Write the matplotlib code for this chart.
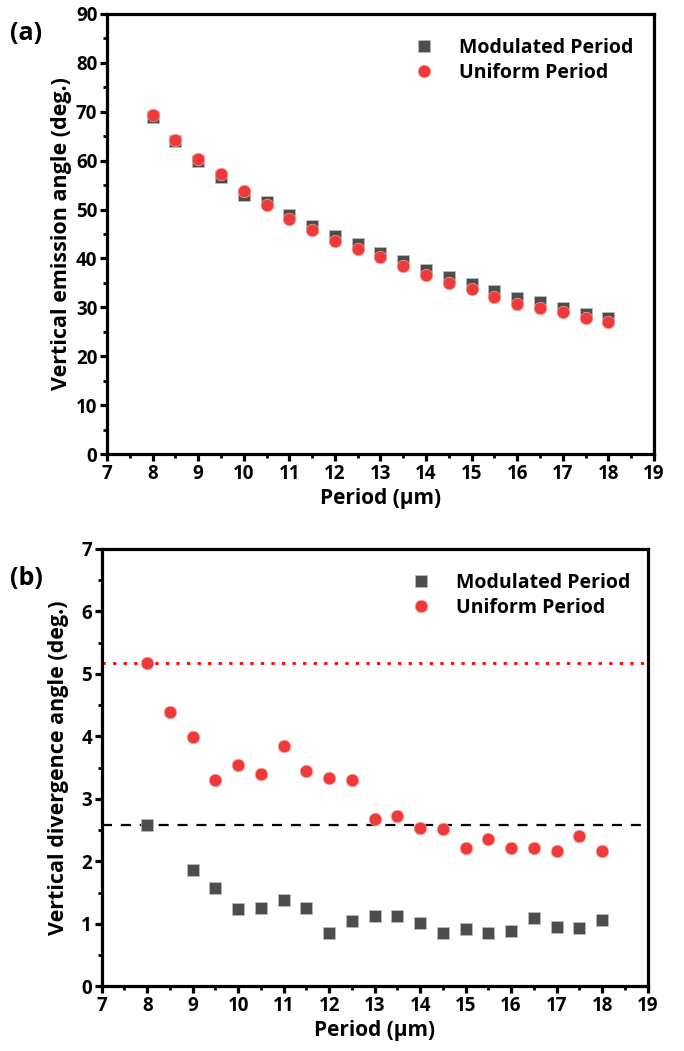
import matplotlib.pyplot as plt
from matplotlib.ticker import MultipleLocator

plt.rcParams['font.family'] = ['Open Sans', 'DejaVu Sans']
plt.rcParams['font.weight'] = 'bold'

# data
period = [8, 8.5, 9, 9.5, 10, 10.5, 11, 11.5, 12, 12.5, 13, 13.5,
          14, 14.5, 15, 15.5, 16, 16.5, 17, 17.5, 18]

emis_mod = [69.0, 64.0, 59.9, 56.6, 53.0, 51.6, 48.8, 46.6, 44.6, 42.9, 41.1, 39.5,
            37.6, 36.3, 34.8, 33.4, 32.0, 31.1, 29.8, 28.6, 27.8]
emis_uni = [69.3, 64.2, 60.3, 57.2, 53.8, 50.9, 48.1, 45.8, 43.6, 41.9, 40.2, 38.4,
            36.6, 35.0, 33.7, 32.2, 30.7, 29.8, 29.1, 27.8, 27.0]

div_mod = [2.58, None, 1.87, 1.58, 1.24, 1.25, 1.39, 1.26, 0.85, 1.05, 1.12, 1.12,
           1.01, 0.86, 0.92, 0.86, 0.89, 1.10, 0.95, 0.94, 1.06]
div_uni = [5.18, 4.39, 3.99, 3.31, 3.55, 3.40, 3.84, 3.45, 3.34, 3.31, 2.68, 2.72,
           2.53, 2.52, 2.22, 2.36, 2.22, 2.21, 2.16, 2.40, 2.17]

uni_ref = 5.18   # dotted red reference line
mod_ref = 2.59   # dashed black reference line

grey = '#4d4d4d'
red = '#f03a3a'

fig = plt.figure(figsize=(6.84, 10.51), dpi=100)
ax1 = fig.add_axes([0.1564, 0.568, 0.7997, 0.4187])
ax2 = fig.add_axes([0.1487, 0.0614, 0.798, 0.4163])


def style_axis(ax, ymax, ymaj, ymin):
    ax.set_xlim(7, 19)
    ax.set_ylim(0, ymax)
    ax.xaxis.set_major_locator(MultipleLocator(1))
    ax.xaxis.set_minor_locator(MultipleLocator(0.5))
    ax.yaxis.set_major_locator(MultipleLocator(ymaj))
    ax.yaxis.set_minor_locator(MultipleLocator(ymin))
    for s in ax.spines.values():
        s.set_linewidth(2.3)
    ax.tick_params(which='major', direction='out', length=5, width=2.3,
                   labelsize=13.5, pad=2, top=False, right=False)
    ax.tick_params(which='minor', direction='out', length=3, width=2.0,
                   top=False, right=False)
    for lab in ax.get_xticklabels() + ax.get_yticklabels():
        lab.set_fontweight('bold')
    ax.set_xlabel('Period (μm)', fontsize=15, fontweight='bold', labelpad=3)


# (a) emission angle
ax1.plot(period, emis_mod, 's', color=grey, ms=8, mec='#bdbdbd', mew=0.5,
         label='Modulated Period')
ax1.plot(period, emis_uni, 'o', color=red, ms=9, mec='#f8a0a0', mew=0.5,
         label='Uniform Period')
style_axis(ax1, 90, 10, 5)
ax1.set_ylabel('Vertical emission angle (deg.)', fontsize=15.5, fontweight='bold',
               labelpad=3)
ax1.legend(loc='upper right', frameon=False, fontsize=14, handletextpad=0.8,
           borderaxespad=0.5, labelspacing=0.25, bbox_to_anchor=(0.995, 0.985))
fig.text(0.014, 0.962, '(a)', fontsize=18, fontweight='bold')

# (b) divergence angle
pm = [p for p, v in zip(period, div_mod) if v is not None]
vm = [v for v in div_mod if v is not None]
ax2.axhline(uni_ref, color='red', ls=(0, (1.2, 2.6)), lw=2.0, zorder=1)
ax2.axhline(mod_ref, color='black', ls=(0, (4.5, 4)), lw=1.6, zorder=1)
ax2.plot(pm, vm, 's', color=grey, ms=8, mec='#bdbdbd', mew=0.5,
         label='Modulated Period', zorder=3)
ax2.plot(period, div_uni, 'o', color=red, ms=9, mec='#f8a0a0', mew=0.5,
         label='Uniform Period', zorder=3)
style_axis(ax2, 7, 1, 0.5)
ax2.set_ylabel('Vertical divergence angle (deg.)', fontsize=15.5, fontweight='bold',
               labelpad=9)
ax2.legend(loc='upper right', frameon=False, fontsize=14, handletextpad=0.8,
           borderaxespad=0.5, labelspacing=0.25, bbox_to_anchor=(1.0, 0.985))
fig.text(0.014, 0.443, '(b)', fontsize=18, fontweight='bold')

plt.savefig('out.png', dpi=100)
plt.close()
